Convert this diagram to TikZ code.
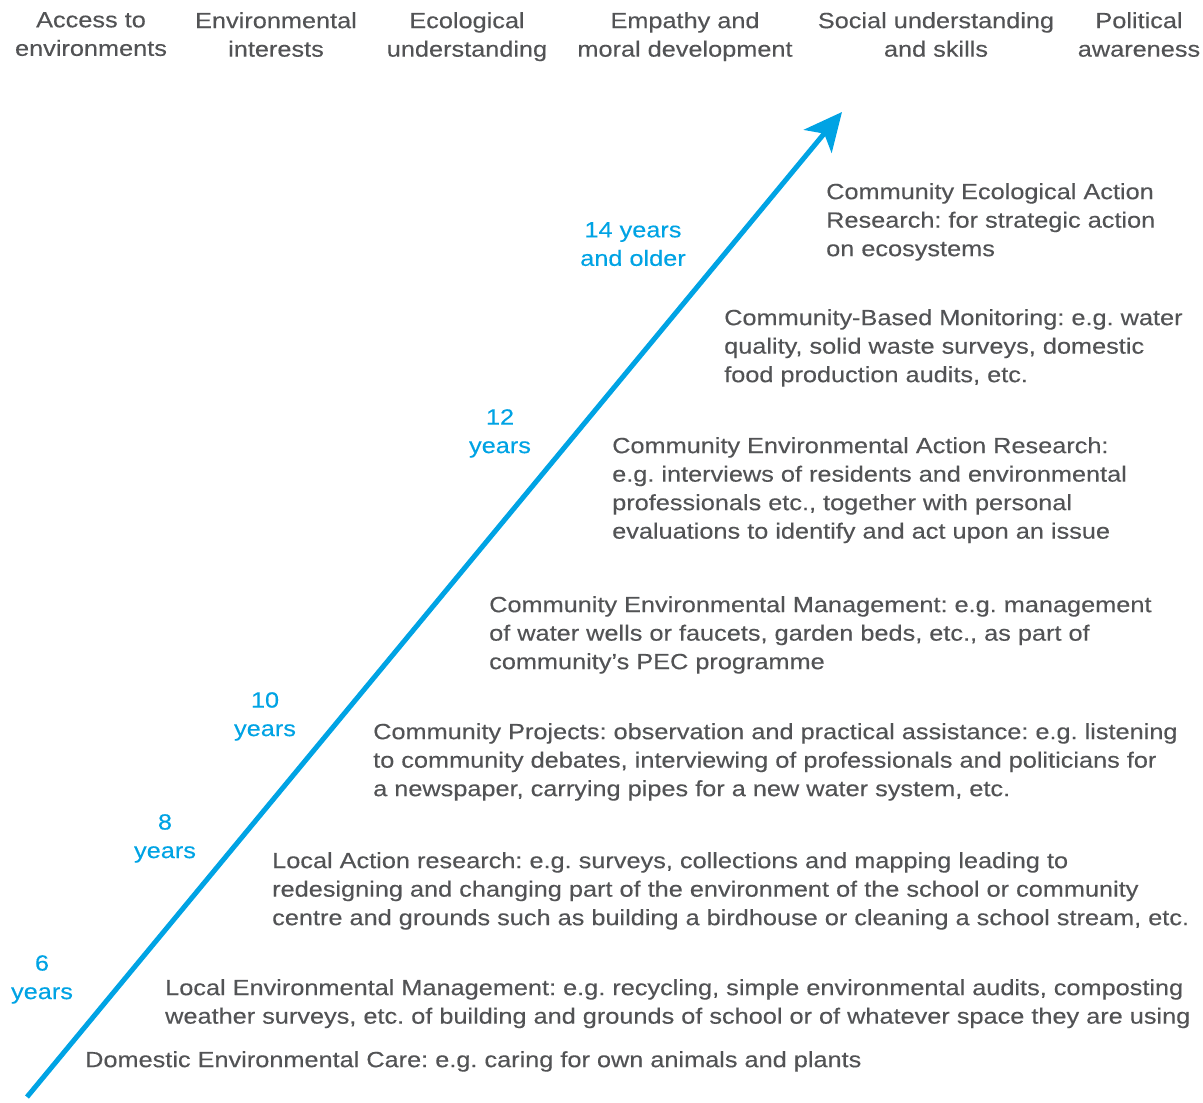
\documentclass[tikz,border=0pt]{standalone}
\usepackage{fontspec}
\setmainfont[FakeStretch=1.15,FakeBold=0.3]{Liberation Sans}
\usetikzlibrary{arrows.meta}
\definecolor{agecol}{RGB}{0,163,228}
\definecolor{txtcol}{RGB}{82,83,85}
\frenchspacing
\tikzset{
  base/.style={inner sep=0pt, font=\fontsize{22}{28.5}\selectfont},
  head/.style={base, text=txtcol, align=center, anchor=north},
  age/.style={base, text=agecol, align=center, anchor=north},
  desc/.style={base, text=txtcol, align=left, anchor=north west},
  growth/.style={line width=5pt, draw=agecol, -{Stealth[length=38pt,width=36pt,inset=10pt]}}
}
\begin{document}
\begin{tikzpicture}[x=1pt,y=-1pt]
\useasboundingbox (0,0) rectangle (1203,1103);
% headers
\node[head] (h1) at (91,12) {Access to\\environments};
\node[head] (h2) at (276,12) {Environmental\\interests};
\node[head] (h3) at (467,12) {Ecological\\understanding};
\node[head] (h4) at (685,12) {Empathy and\\moral development};
\node[head] (h5) at (936,12) {Social understanding\\and skills};
\node[head] (h6) at (1139,12) {Political\\awareness};
% arrow
\coordinate (s) at (27,1097);
\coordinate (e) at (842,112);
\draw[growth] (s) -- (e);
% ages
\node[age] (a14) at (633,222) {14 years\\and older};
\node[age] (a12) at (500,409) {12\\years};
\node[age] (a10) at (265,692) {10\\years};
\node[age] (a8) at (165,814) {8\\years};
\node[age] (a6) at (42,955) {6\\years};
% descriptions
\node[desc] (d1) at (826,183) {Community Ecological Action\\Research: for strategic action\\on ecosystems};
\node[desc] (d2) at (724,309) {Community-Based Monitoring: e.g. water\\quality, solid waste surveys, domestic\\food production audits, etc.};
\node[desc] (d3) at (612,437) {Community Environmental Action Research:\\e.g. interviews of residents and environmental\\professionals etc., together with personal\\evaluations to identify and act upon an issue};
\node[desc] (d4) at (489,596) {Community Environmental Management: e.g. management\\of water wells or faucets, garden beds, etc., as part of\\community’s PEC programme};
\node[desc] (d5) at (373,723) {Community Projects: observation and practical assistance: e.g. listening\\to community debates, interviewing of professionals and politicians for\\a newspaper, carrying pipes for a new water system, etc.};
\node[desc] (d6) at (272,852) {Local Action research: e.g. surveys, collections and mapping leading to\\redesigning and changing part of the environment of the school or community\\centre and grounds such as building a birdhouse or cleaning a school stream, etc.};
\node[desc] (d7) at (165,979) {Local Environmental Management: e.g. recycling, simple environmental audits, composting\\weather surveys, etc. of building and grounds of school or of whatever space they are using};
\node[desc] (d8) at (85,1051) {Domestic Environmental Care: e.g. caring for own animals and plants};
\end{tikzpicture}
\end{document}
